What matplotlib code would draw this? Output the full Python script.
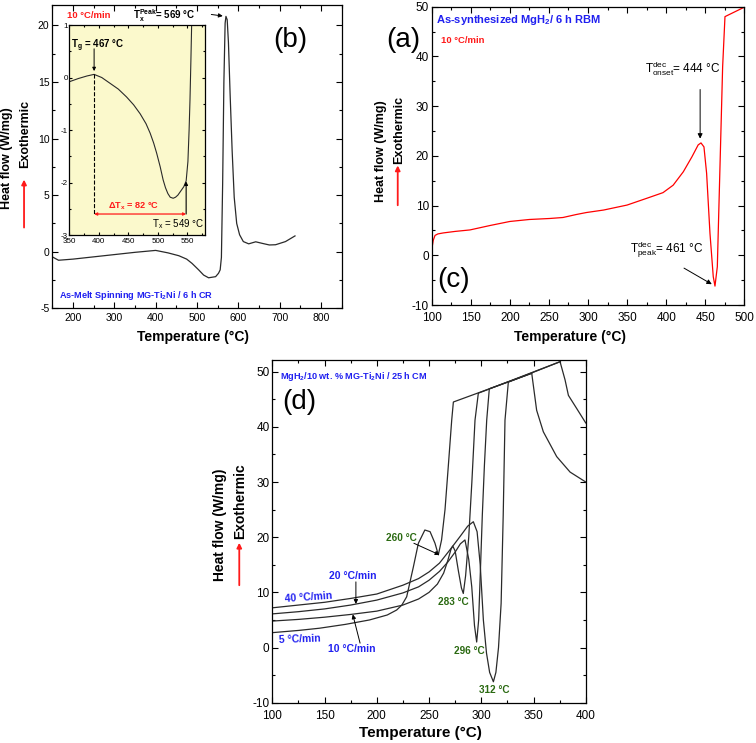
import matplotlib
matplotlib.use("Agg")
import matplotlib.pyplot as plt
from matplotlib.ticker import MultipleLocator
from matplotlib.patches import FancyArrowPatch

plt.rcParams['font.family'] = ['Liberation Sans', 'DejaVu Sans']
plt.rcParams['mathtext.default'] = 'regular'
plt.rcParams['axes.unicode_minus'] = False

BLUE = '#2020f0'
RED = '#ff1a1a'
GREEN = '#2b6a12'
LINE = '#2a2a2a'

# ---------------- panel (b) : melt-spun MG-Ti2Ni ----------------
b_temp = [150, 165, 200, 250, 300, 350, 400, 430, 456, 475, 488, 504, 516, 528,
          545, 552, 556, 559, 562, 565, 568, 570, 573, 576, 580, 585, 590, 596,
          603, 612, 625, 642, 658, 675, 690, 714, 737]
b_heat = [-0.45, -0.75, -0.65, -0.45, -0.25, -0.05, 0.12, -0.1, -0.35, -0.65,
          -1.03, -1.6, -2.06, -2.3, -2.2, -1.9, -1.6, -0.5, 6.0, 15.0, 20.2,
          20.8, 20.5, 18.5, 14.0, 8.9, 4.8, 2.5, 1.5, 0.9, 0.7, 0.88, 0.74,
          0.6, 0.62, 0.9, 1.4]

# inset of (b)
i_temp = [350, 365, 380, 392, 405, 419, 433, 447, 459, 470, 480, 487, 493, 498,
          504, 509, 513, 517, 521, 526, 530, 534, 539, 544, 548, 551, 553,
          554.5, 556, 557.5, 559]
i_heat = [-0.08, -0.02, 0.03, 0.06, 0.0, -0.11, -0.22, -0.37, -0.52, -0.69,
          -0.88, -1.06, -1.25, -1.44, -1.7, -1.95, -2.1, -2.21, -2.28, -2.3,
          -2.28, -2.24, -2.16, -2.08, -1.97, -1.6, -1.0, -0.43, 0.3, 1.1, 1.6]
TG_X = 392
TX_X = 548

# ---------------- panel (a)/(c) : MgH2 6 h RBM ----------------
a_temp = [100, 102, 104.3, 108, 115, 130, 149, 175, 200, 225, 251, 268, 285,
          298, 320, 350, 375, 396, 409, 422, 433, 441, 444.6, 448.4, 451.8,
          456.1, 460.3, 462.5, 465.5, 468.9, 472.3, 475.3, 500]
a_heat = [1.06, 3.0, 4.0, 4.3, 4.5, 4.8, 5.1, 6.0, 6.8, 7.2, 7.4, 7.6, 8.2,
          8.6, 9.1, 10.1, 11.45, 12.6, 14.1, 16.8, 19.8, 22.2, 22.6, 21.8,
          16.5, 4.4, -4.3, -6.2, -2.3, 17.8, 37.9, 48.0, 49.9]

# ---------------- panel (d) : MgH2/10 wt.% MG-Ti2Ni, 4 heating rates ----------------
d_temp_5 = [100, 125, 145, 170, 193, 210, 219, 224, 228.6, 235, 239.8, 246, 251,
            255.7, 258.9, 262, 265.3, 268.5, 271.7, 273.3, 348.3, 353, 359.4,
            372.2, 385, 400]
d_heat_5 = [2.7, 3.1, 3.5, 4.2, 5.0, 5.9, 6.8, 7.7, 9.2, 14.6, 18.9, 21.3, 21.0,
            18.9, 16.8, 19.5, 25.0, 33.0, 41.2, 44.5, 49.7, 43.0, 39.1, 34.6,
            31.8, 30.0]

d_temp_10 = [100, 125, 150, 175, 200, 225, 240, 250, 258, 264, 268, 271, 272.7,
             275, 278, 281, 282.8, 285, 288, 291, 294, 297.2, 375.4, 380.2,
             383.4, 391.4, 400]
d_heat_10 = [4.8, 5.1, 5.5, 6.0, 6.6, 7.7, 8.8, 10.0, 11.5, 13.5, 15.8, 17.8,
             18.4, 17.5, 14.0, 10.8, 9.8, 13.0, 20.0, 30.0, 41.2, 46.1, 51.8,
             48.5, 45.7, 43.3, 40.7]

d_temp_20 = [100, 125, 150, 175, 200, 225, 240, 250, 260, 268, 275, 280, 284.4,
             288, 290.9, 293.5, 295.6, 297.5, 299, 301, 303, 305.2, 307.7, 348.3]
d_heat_20 = [6.1, 6.5, 7.0, 7.7, 8.6, 9.9, 11.0, 12.2, 13.8, 15.5, 17.3, 18.8,
             19.5, 16.0, 11.0, 4.0, 1.0, 5.0, 13.0, 24.0, 33.0, 41.2, 46.9, 49.7]

d_temp_40 = [100, 125, 150, 175, 200, 225, 240, 250, 260, 270, 280, 287, 292.4,
             296, 299, 302, 305, 308, 311.6, 314, 316.5, 319, 321, 322.7, 325.9,
             375.4]
d_heat_40 = [7.2, 7.7, 8.2, 8.9, 9.7, 11.3, 12.5, 13.7, 15.3, 17.7, 20.2, 22.0,
             22.8, 21.0, 15.0, 5.0, -1.0, -4.5, -6.2, -4.5, 0.0, 8.0, 24.0, 41.2,
             48.1, 51.8]

fig = plt.figure(figsize=(7.56, 7.43), dpi=100)


def style(ax, xmaj, xmin, ymaj, ymin, fs, xpad=4, ypad=2):
    ax.xaxis.set_major_locator(MultipleLocator(xmaj))
    ax.xaxis.set_minor_locator(MultipleLocator(xmin))
    ax.yaxis.set_major_locator(MultipleLocator(ymaj))
    ax.yaxis.set_minor_locator(MultipleLocator(ymin))
    ax.tick_params(which='both', direction='in', top=True, right=True,
                   labelsize=fs, width=0.8)
    ax.tick_params(axis='x', pad=xpad)
    ax.tick_params(axis='y', pad=ypad)
    ax.tick_params(which='major', length=4)
    ax.tick_params(which='minor', length=2)
    for s in ax.spines.values():
        s.set_linewidth(0.9)


def ylabel_block(xh, yh, xe, ye, xa, ya0, ya1, fs):
    fig.text(xh, yh, 'Heat flow (W/mg)', rotation=90, ha='center', va='center',
             fontsize=fs, fontweight='bold')
    fig.text(xe, ye, 'Exothermic', rotation=90, ha='center', va='center',
             fontsize=fs, fontweight='bold')
    fig.add_artist(FancyArrowPatch((xa, ya0), (xa, ya1), transform=fig.transFigure,
                                   arrowstyle='-|>', color=RED, lw=1.3,
                                   mutation_scale=7))


# ---- panel (b)
axb = fig.add_axes([0.0692, 0.585, 0.3828, 0.4082])
axb.plot(b_temp, b_heat, color=LINE, lw=0.9)
axb.set_xlim(150, 850)
axb.set_ylim(-5, 21.8)
style(axb, 100, 50, 5, 2.5, 7.5, xpad=3.5)
axb.text(185, 20.9, '10 °C/min', color=RED, fontsize=6.8, fontweight='bold',
         ha='left', va='center')
axb.text(346, 20.9, r'T$_x^{Peak}$= 569 °C', color='black', fontsize=7,
         fontweight='bold', ha='left', va='center')
axb.annotate('', xy=(569, 20.8), xytext=(528, 21.0),
             arrowprops=dict(arrowstyle='-|>', color='black', lw=0.7,
                             mutation_scale=6))
axb.text(726, 18.7, '(b)', fontsize=20, ha='center', va='center')
axb.text(167, -3.83, r'As-Melt Spinning MG-Ti$_2$Ni / 6 h CR', color=BLUE,
         fontsize=6.6, fontweight='bold', ha='left', va='center')
fig.text(0.255, 0.5464, 'Temperature (°C)', ha='center', va='center',
         fontsize=10, fontweight='bold')
ylabel_block(0.0099, 0.787, 0.033, 0.820, 0.0318, 0.690, 0.762, 9)

# ---- inset
axi = fig.add_axes([0.0917, 0.6837, 0.1795, 0.2826])
axi.set_facecolor('#fbf9cc')
axi.plot(i_temp, i_heat, color=LINE, lw=0.8)
axi.set_xlim(350, 580)
axi.set_ylim(-3, 1)
style(axi, 50, 25, 1, 0.5, 5.8, xpad=2.5, ypad=1.2)
axi.tick_params(which='major', length=2.5)
axi.tick_params(which='minor', length=1.5)
axi.plot([TG_X, TG_X], [i_heat[3], -2.6], ls='--', color='black', lw=0.8)
axi.annotate('', xy=(TG_X, 0.07), xytext=(TG_X, 0.6),
             arrowprops=dict(arrowstyle='-|>', color='black', lw=0.7,
                             mutation_scale=5))
axi.text(353, 0.55, r'T$_g$ = 467 °C', fontsize=7, fontweight='bold',
         ha='left', va='baseline')
axi.annotate('', xy=(TX_X, -2.6), xytext=(TG_X, -2.6),
             arrowprops=dict(arrowstyle='<|-|>', color=RED, lw=0.9,
                             mutation_scale=4, shrinkA=0, shrinkB=0))
axi.annotate('', xy=(TX_X, -1.98), xytext=(TX_X, -2.6),
             arrowprops=dict(arrowstyle='-|>', color='black', lw=0.8,
                             mutation_scale=5, shrinkA=0, shrinkB=0))
axi.text(458, -2.45, r'ΔT$_x$ = 82 °C', color=RED, fontsize=6.6,
         fontweight='bold', ha='center', va='center')
axi.text(579, -2.79, r'T$_x$ = 549 °C', fontsize=7, ha='right', va='center')

# ---- panel (a)/(c)
axa = fig.add_axes([0.571, 0.5895, 0.4135, 0.4015])
axa.plot(a_temp, a_heat, color='#ff0000', lw=0.9)
axa.set_xlim(100, 500)
axa.set_ylim(-10, 50)
style(axa, 50, 25, 10, 5, 8.5, xpad=5)
axa.text(106, 47.3, r'As-synthesized MgH$_2$/ 6 h RBM', color=BLUE, fontsize=8,
         fontweight='bold', ha='left', va='center')
axa.text(64, 43.3, '(a)', fontsize=20, ha='center', va='center')
axa.text(112.5, 43.2, '10 °C/min', color=RED, fontsize=6.8, fontweight='bold',
         ha='left', va='center')
axa.text(372.5, 37.6, r'T$_{onset}^{dec}$= 444 °C', fontsize=8.5, ha='left',
         va='center')
axa.annotate('', xy=(443.5, 22.9), xytext=(443.5, 33.9),
             arrowprops=dict(arrowstyle='-|>', color='black', lw=0.7,
                             mutation_scale=7))
axa.text(353.5, 1.2, r'T$_{peak}^{dec}$= 461 °C', fontsize=8.5, ha='left',
         va='center')
axa.annotate('', xy=(461.5, -6.1), xytext=(419.8, -2.3),
             arrowprops=dict(arrowstyle='-|>', color='black', lw=0.7,
                             mutation_scale=7))
axa.text(127.7, -5, '(c)', fontsize=20, ha='center', va='center')
fig.text(0.754, 0.5464, 'Temperature (°C)', ha='center', va='center',
         fontsize=10, fontweight='bold')
ylabel_block(0.5037, 0.797, 0.5278, 0.825, 0.5261, 0.720, 0.781, 9)

# ---- panel (d)
axd = fig.add_axes([0.3602, 0.0542, 0.4146, 0.4612])
for xs, ys in [(d_temp_5, d_heat_5), (d_temp_10, d_heat_10),
               (d_temp_20, d_heat_20), (d_temp_40, d_heat_40)]:
    axd.plot(xs, ys, color=LINE, lw=0.9)
axd.set_xlim(100, 400)
axd.set_ylim(-10, 52.1)
style(axd, 50, 25, 10, 5, 8.5, xpad=5)
axd.text(107.4, 49.2, r'MgH$_2$/10 wt. % MG-Ti$_2$Ni / 25 h CM', color=BLUE,
         fontsize=6.6, fontweight='bold', ha='left', va='center')
axd.text(126, 44.5, '(d)', fontsize=20, ha='center', va='center')

for lbl, x, y in [('260 °C', 224, 19.8), ('283 °C', 273.3, 8.3),
                  ('296 °C', 288.3, -0.7), ('312 °C', 312.8, -7.7)]:
    axd.text(x, y, lbl, color=GREEN, fontsize=7.2, fontweight='bold',
             ha='center', va='center')
axd.annotate('', xy=(260, 16.8), xytext=(235.5, 18.9),
             arrowprops=dict(arrowstyle='-|>', color='black', lw=0.7,
                             mutation_scale=6, shrinkA=0, shrinkB=0))

axd.text(177.3, 13.0, '20 °C/min', color=BLUE, fontsize=7.5, fontweight='bold',
         ha='center', va='center')
axd.annotate('', xy=(180, 7.9), xytext=(180, 11.9),
             arrowprops=dict(arrowstyle='-|>', color='black', lw=0.7,
                             mutation_scale=6, shrinkA=0, shrinkB=0))
axd.text(134.5, 9.1, '40 °C/min', color=BLUE, fontsize=7.5, fontweight='bold',
         ha='center', va='center', rotation=4)
axd.text(126.4, 1.5, '5 °C/min', color=BLUE, fontsize=7.5, fontweight='bold',
         ha='center', va='center', rotation=2)
axd.text(176, -0.3, '10 °C/min', color=BLUE, fontsize=7.5, fontweight='bold',
         ha='center', va='center')
axd.annotate('', xy=(177, 6.0), xytext=(184, 0.8),
             arrowprops=dict(arrowstyle='-|>', color='black', lw=0.7,
                             mutation_scale=6, shrinkA=0, shrinkB=0))
fig.text(0.5556, 0.0139, 'Temperature (°C)', ha='center', va='center',
         fontsize=11, fontweight='bold')
ylabel_block(0.291, 0.2934, 0.3175, 0.3257, 0.3165, 0.2086, 0.2732, 10)

fig.savefig('out.png', dpi=100)
